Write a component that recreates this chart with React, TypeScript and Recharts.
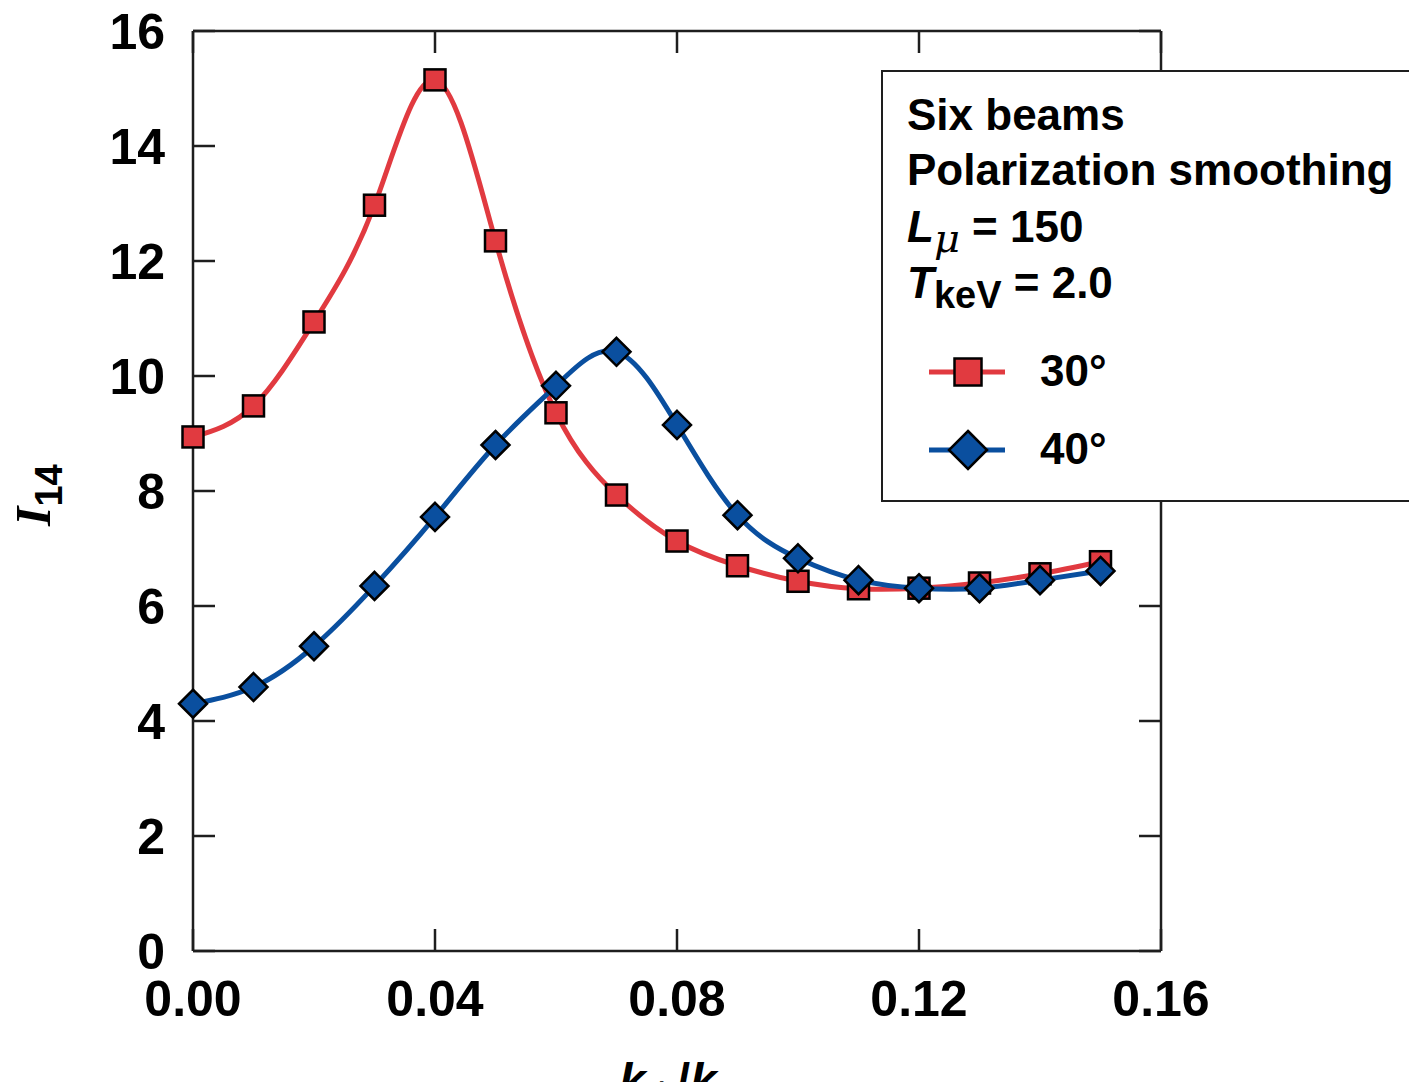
import { Legend, Line, LineChart, XAxis, YAxis } from "recharts";

// k values along the x axis
const kValues = [0, 0.01, 0.02, 0.03, 0.04, 0.05, 0.06, 0.07, 0.08, 0.09, 0.1, 0.11, 0.12, 0.13, 0.14, 0.15];
// I14 for the 30 degree case
const angle30 = [8.94, 9.48, 10.94, 12.97, 15.15, 12.35, 9.36, 7.93, 7.13, 6.7, 6.43, 6.3, 6.31, 6.4, 6.56, 6.77];
// I14 for the 40 degree case
const angle40 = [4.3, 4.59, 5.3, 6.35, 7.55, 8.8, 9.83, 10.42, 9.15, 7.58, 6.83, 6.45, 6.31, 6.31, 6.45, 6.61];

const xTicks = [0, 0.04, 0.08, 0.12, 0.16];
const yTicks = [0, 2, 4, 6, 8, 10, 12, 14, 16];

const data = kValues.map((k, i) => ({ k, a30: angle30[i], a40: angle40[i] }));

const RED = "#e13a40";
const BLUE = "#0a4f9f";
const INK = "#1e1e1e";
const SANS = "'Liberation Sans', Arial, Helvetica, sans-serif";

const tickFont = { fontSize: 50, fontWeight: "bold", fill: "#000", fontFamily: SANS };
const axisStroke = { stroke: INK, strokeWidth: 2.5 };

// frame axes: tick marks only, no labels
const NoLabel = () => <g />;

function Square(props: any) {
  const { cx, cy, side = 21 } = props;
  if (cx == null || cy == null) return null;
  return (
    <rect x={cx - side / 2} y={cy - side / 2} width={side} height={side} fill={RED} stroke="#000" strokeWidth={2.5} />
  );
}

function Diamond(props: any) {
  const { cx, cy, half = 14 } = props;
  if (cx == null || cy == null) return null;
  return (
    <polygon
      points={`${cx},${cy - half} ${cx + half},${cy} ${cx},${cy + half} ${cx - half},${cy}`}
      fill={BLUE}
      stroke="#000"
      strokeWidth={2.5}
    />
  );
}

function LegendBox(props: any) {
  const payload = (props.payload || []).filter((p: any) => p.type !== "none");
  const rows = [302, 380];
  return (
    <div
      style={{
        width: 560,
        height: 432,
        background: "#fff",
        border: `2.5px solid ${INK}`,
        borderRight: "none",
        boxSizing: "border-box",
      }}
    >
      <svg width={560} height={432} style={{ position: "absolute", left: 0, top: 0 }}>
        <g fontFamily={SANS} fontWeight="bold" fontSize={44} fill="#000">
          <text x={26} y={60}>Six beams</text>
          <text x={26} y={115}>Polarization smoothing</text>
          <text x={26} y={172}>
            <tspan fontStyle="italic">L</tspan>
            <tspan fontStyle="italic" fontSize={40} dy={10} fontFamily="'DejaVu Serif', serif" fontWeight="normal">μ</tspan>
            <tspan dy={-10}> = 150</tspan>
          </text>
          <text x={26} y={228}>
            <tspan fontStyle="italic">T</tspan>
            <tspan fontSize={38} dy={10}>keV</tspan>
            <tspan dy={-10}> = 2.0</tspan>
          </text>
          {payload.map((entry: any, i: number) => {
            const y = rows[i];
            return (
              <g key={entry.value}>
                <line x1={48} x2={124} y1={y} y2={y} stroke={entry.color} strokeWidth={5} />
                {i === 0 ? <Square cx={87} cy={y} side={27} /> : <Diamond cx={87} cy={y} half={19} />}
                <text x={159} y={y + 14}>{entry.value}</text>
              </g>
            );
          })}
        </g>
      </svg>
    </div>
  );
}

function YLabel() {
  return (
    <text transform="translate(50, 526) rotate(-90)" x={0} y={0}>
      <tspan fontFamily="'Liberation Serif', 'Times New Roman', serif" fontStyle="italic" fontWeight="bold" fontSize={50} fill="#000">
        I
      </tspan>
      <tspan fontFamily={SANS} fontWeight="bold" fontSize={38} dy={12} fill="#000">
        14
      </tspan>
    </text>
  );
}

function XLabel(props: any) {
  const { viewBox } = props;
  const cx = viewBox ? viewBox.x + viewBox.width / 2 : 677;
  return (
    <text x={cx - 58} y={1097} fontFamily={SANS} fontWeight="bold" fontSize={48} fill="#000">
      <tspan fontStyle="italic">k</tspan>
      <tspan fontSize={36} dy={10}>⊥</tspan>
      <tspan dy={-10}>/</tspan>
      <tspan fontStyle="italic">k</tspan>
    </text>
  );
}

export default function App() {
  return (
    <div style={{ position: "absolute", left: 0, top: 0, background: "#fff" }}>
      <LineChart width={1409} height={1082} data={data} margin={{ top: 30, right: 247, left: 73, bottom: 41 }}>
        <XAxis
          xAxisId="b"
          dataKey="k"
          type="number"
          domain={[0, 0.16]}
          ticks={xTicks}
          interval={0}
          tickFormatter={(v: number) => v.toFixed(2)}
          height={90}
          tickSize={-22}
          tickMargin={51}
          axisLine={axisStroke}
          tickLine={axisStroke}
          tick={tickFont}
          label={<XLabel />}
        />
        <XAxis
          xAxisId="t"
          dataKey="k"
          orientation="top"
          type="number"
          domain={[0, 0.16]}
          ticks={xTicks}
          interval={0}
          height={1}
          tick={NoLabel}
          tickSize={-22}
          axisLine={axisStroke}
          tickLine={axisStroke}
        />
        <YAxis
          yAxisId="l"
          type="number"
          domain={[0, 16]}
          ticks={yTicks}
          interval={0}
          width={120}
          tickSize={-22}
          tickMargin={50}
          axisLine={axisStroke}
          tickLine={axisStroke}
          tick={tickFont}
          label={<YLabel />}
        />
        <YAxis
          yAxisId="r"
          orientation="right"
          type="number"
          domain={[0, 16]}
          ticks={yTicks}
          interval={0}
          width={1}
          tick={NoLabel}
          tickSize={-22}
          axisLine={axisStroke}
          tickLine={axisStroke}
        />
        <Legend
          layout="horizontal"
          verticalAlign="middle"
          align="center"
          wrapperStyle={{ position: "absolute", left: 881, top: 70, width: 560, height: 432 }}
          content={<LegendBox />}
        />
        {/* invisible series so the top and right frame axes get drawn */}
        <Line
          xAxisId="t"
          yAxisId="r"
          dataKey="a40"
          stroke="none"
          dot={false}
          activeDot={false}
          legendType="none"
          isAnimationActive={false}
        />
        <Line
          xAxisId="b"
          yAxisId="l"
          name="30°"
          dataKey="a30"
          type="natural"
          stroke={RED}
          strokeWidth={5}
          dot={<Square />}
          activeDot={false}
          isAnimationActive={false}
        />
        <Line
          xAxisId="b"
          yAxisId="l"
          name="40°"
          dataKey="a40"
          type="natural"
          stroke={BLUE}
          strokeWidth={5}
          dot={<Diamond />}
          activeDot={false}
          isAnimationActive={false}
        />
      </LineChart>
    </div>
  );
}
